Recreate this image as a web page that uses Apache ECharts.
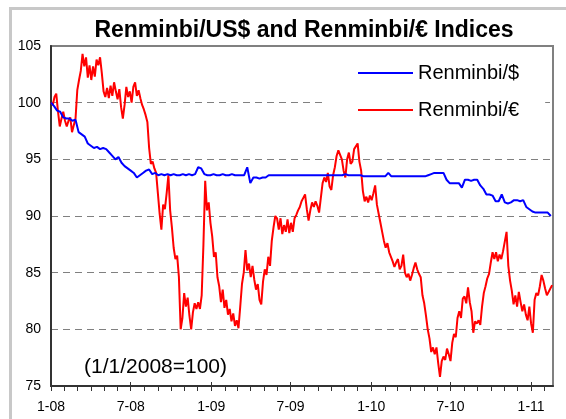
<!DOCTYPE html>
<html>
<head>
<meta charset="utf-8">
<script src="https://cdn.jsdelivr.net/npm/echarts@6/dist/echarts.min.js"></script>
<style>
  html, body { margin: 0; padding: 0; background: #fff; }
  #chart { width: 566px; height: 419px; }
</style>
</head>
<body>
<div id="chart"></div>
<script>
// Daily axis from the start of 2008 to late February 2011
const startDate = '2008-01-01';
const endDate = '2011-02-20';

const seriesNames = ['Renminbi/$', 'Renminbi/€'];

// Renminbi per US dollar index (1/1/2008 = 100), one reading every 7 days
const usdStepDays = 7;
const rmbUsd = [
  100.0, 99.7, 99.3, 99.2, 98.7, 98.6, 98.6, 98.4, 98.5, 97.4,
  97.2, 97.0, 96.4, 96.2, 96.0, 96.1, 95.9, 96.0, 95.9, 95.6,
  95.3, 95.0, 95.2, 94.7, 94.4, 94.2, 94.0, 93.8, 93.4, 93.6,
  93.8, 94.0, 94.1, 93.7, 93.8, 93.6, 93.7, 93.6, 93.7, 93.6,
  93.7, 93.6, 93.6, 93.7, 93.6, 93.7, 93.6, 93.7, 94.3, 94.2,
  93.7, 93.6, 93.6, 93.7, 93.6, 93.6, 93.7, 93.6, 93.6, 93.7,
  93.6, 93.6, 93.6, 93.6, 94.3, 92.9, 93.4, 93.4, 93.3, 93.4,
  93.4, 93.6, 93.6, 93.6, 93.6, 93.6, 93.6, 93.6, 93.6, 93.6,
  93.6, 93.6, 93.6, 93.6, 93.6, 93.6, 93.6, 93.6, 93.6, 93.6,
  93.6, 93.6, 93.6, 93.6, 93.6, 93.6, 93.7, 93.6, 93.6, 93.6,
  93.6, 93.6, 93.5, 93.5, 93.5, 93.5, 93.5, 93.5, 93.5, 93.5,
  93.8, 93.5, 93.5, 93.5, 93.5, 93.5, 93.5, 93.5, 93.5, 93.5,
  93.5, 93.5, 93.5, 93.6, 93.7, 93.8, 93.8, 93.8, 93.8, 93.2,
  92.9, 92.9, 92.9, 92.9, 92.5, 93.2, 93.2, 93.1, 93.2, 93.2,
  92.7, 92.4, 91.9, 91.9, 91.8, 91.3, 91.3, 91.9, 91.2, 91.1,
  91.2, 91.4, 91.4, 91.3, 91.4, 90.8, 90.6, 90.4, 90.3, 90.3,
  90.3, 90.3, 90.3, 90.0
];

// Renminbi per euro index (1/1/2008 = 100), one reading every 4 days
const eurStepDays = 4;
const rmbEur = [
  100.0, 99.8, 100.5, 100.8, 99.2, 97.9, 98.6, 99.2, 98.4, 97.9,
  98.4, 98.7, 97.4, 98.0, 98.6, 101.1, 102.0, 102.8, 104.3, 103.2,
  104.0, 102.2, 103.3, 102.0, 103.2, 102.3, 103.8, 103.3, 104.0, 102.6,
  101.0, 100.5, 101.3, 100.4, 101.5, 100.6, 101.8, 101.0, 100.3, 101.2,
  99.6, 98.6, 99.8, 101.4, 100.5, 101.0, 100.0, 101.4, 101.8, 100.6,
  101.1, 100.4, 99.8, 99.4, 98.9, 98.3, 96.0, 94.6, 94.8, 94.2,
  93.8, 92.0, 90.2, 88.8, 91.0, 90.6, 92.0, 93.6, 90.5, 89.0,
  87.2, 86.2, 86.5, 84.6, 80.0, 81.0, 83.2, 82.0, 82.8, 81.2,
  80.0, 81.5, 82.3, 81.8, 82.4, 81.8, 83.0, 87.5, 93.1, 90.5,
  91.2, 89.4, 88.2, 86.4, 86.8, 84.6, 83.8, 82.4, 83.5, 81.9,
  82.6, 81.3, 81.8, 80.7, 81.4, 80.3, 80.8, 80.1, 82.0, 84.0,
  85.0, 87.0, 85.2, 85.8, 84.6, 85.6, 84.4, 83.5, 84.0, 82.6,
  82.2, 84.2, 85.3, 84.8, 86.4, 85.6, 87.8, 89.0, 90.0, 89.8,
  88.8, 89.8, 88.4, 89.2, 88.6, 89.7, 88.5, 89.4, 88.6, 89.8,
  90.1, 90.5, 90.8, 91.3, 91.6, 91.9, 90.6, 89.6, 90.5, 91.2,
  90.8, 91.3, 90.9, 90.3, 91.6, 92.9, 93.4, 93.0, 93.8, 92.6,
  92.3, 93.6, 94.3, 95.3, 95.8, 95.4, 95.0, 94.0, 93.4, 95.0,
  95.6, 94.6, 94.8, 95.9, 96.0, 96.4, 94.8, 94.0, 92.2, 91.3,
  91.7, 91.2, 91.8, 91.4, 92.0, 92.7, 91.0, 90.2, 89.4, 88.6,
  87.8, 87.2, 87.6, 86.8, 86.4, 86.0, 85.5, 85.9, 86.2, 85.3,
  85.6, 86.6, 85.0, 84.6, 84.9, 84.3, 84.8, 85.4, 85.9, 85.3,
  84.9, 84.6, 83.0, 82.3, 81.2, 80.0, 79.2, 78.0, 78.4, 77.8,
  78.4, 77.0, 75.8, 77.2, 77.6, 77.3, 78.3, 77.8, 77.2, 78.8,
  79.6, 79.3, 81.0, 81.6, 81.0, 82.7, 82.9, 82.3, 83.7, 82.4,
  81.6, 79.7, 80.7, 80.5, 80.8, 80.4, 82.0, 83.2, 83.8, 84.5,
  84.9, 85.9, 86.8, 86.2, 86.8, 86.0, 86.6, 86.2, 86.9, 87.0,
  88.6, 85.6, 84.3, 83.4, 82.2, 83.0, 82.0, 83.3, 82.4, 81.6,
  82.2, 81.3, 80.8, 82.0, 80.5, 79.7, 82.6, 83.2, 83.0, 83.8,
  84.8, 84.3, 83.6, 83.0, 82.9, 83.6, 83.9
];

// Value axis range
const yMin = 75;
const yMax = 105;
const yStep = 5;

const FONT = "Arial, 'Liberation Sans', sans-serif";
const DAY = 86400000;

function isoDay(ms) { return new Date(ms).toISOString().slice(0, 10); }

// Every calendar day on the axis
const t0 = Date.parse(startDate + 'T00:00:00Z');
const t1 = Date.parse(endDate + 'T00:00:00Z');
const days = [];
for (let t = t0; t <= t1; t += DAY) days.push(isoDay(t));

// Pair each reading with its date
function withDates(values, stepDays) {
  return values.map((v, i) => [isoDay(t0 + i * stepDays * DAY), v]);
}

const isMonthStart = (idx, val) => val.slice(8) === '01';
const isHalfYear = (idx, val) => val.slice(8) === '01' && (val.slice(5, 7) === '01' || val.slice(5, 7) === '07');
const shortLabel = (val) => (+val.slice(5, 7)) + '-' + val.slice(2, 4);

const chart = echarts.init(document.getElementById('chart'), null, { renderer: 'canvas' });

chart.setOption({
  animation: false,
  backgroundColor: '#fff',
  textStyle: { fontFamily: FONT },
  grid: {
    left: 51, top: 46, right: 13, bottom: 33,
    show: true, borderColor: '#808080', borderWidth: 2, backgroundColor: 'transparent'
  },
  graphic: [
    {
      type: 'rect', silent: true, z: -1,
      shape: { x: 10.5, y: 8.5, width: 700, height: 600 },
      style: { fill: null, stroke: '#c8c8c8', lineWidth: 3 }
    },
    {
      type: 'text', silent: true,
      x: 304, y: 31,
      style: {
        text: 'Renminbi/US$ and Renminbi/€ Indices',
        font: 'bold 23px ' + FONT, fill: '#000',
        textAlign: 'center', textVerticalAlign: 'middle'
      }
    },
    {
      type: 'text', silent: true,
      x: 84, y: 367,
      style: {
        text: '(1/1/2008=100)',
        font: '21px ' + FONT, fill: '#000',
        textAlign: 'left', textVerticalAlign: 'middle'
      }
    }
  ],
  legend: {
    data: seriesNames,
    orient: 'vertical',
    left: 322, top: 55,
    padding: [8, 26, 8, 36],
    backgroundColor: '#fff',
    icon: 'rect',
    itemWidth: 55, itemHeight: 2, itemGap: 17,
    textStyle: { fontSize: 20, color: '#000', fontFamily: FONT, lineHeight: 20 },
    selectedMode: false
  },
  xAxis: [
    {
      type: 'category',
      data: days,
      boundaryGap: false,
      axisLine: { show: true, lineStyle: { color: '#333', width: 2 } },
      axisTick: { show: true, interval: isMonthStart, length: 5, lineStyle: { color: '#333', width: 1 } },
      axisLabel: {
        show: true, interval: isHalfYear, formatter: shortLabel,
        fontSize: 14, color: '#000', margin: 14, fontFamily: FONT
      },
      splitLine: { show: false }
    },
    {
      type: 'category',
      data: days,
      boundaryGap: false,
      position: 'bottom',
      axisLine: { show: false },
      axisTick: { show: true, inside: true, interval: isHalfYear, length: 4, lineStyle: { color: '#333', width: 1 } },
      axisLabel: { show: false },
      splitLine: { show: false }
    }
  ],
  yAxis: {
    type: 'value',
    min: yMin, max: yMax, interval: yStep,
    axisLine: { show: true, lineStyle: { color: '#333', width: 2 } },
    axisTick: { show: false },
    axisLabel: { fontSize: 14, color: '#000', margin: 10, fontFamily: FONT },
    splitLine: { show: true, lineStyle: { color: '#808080', width: 1, type: [7, 5] } }
  },
  series: [
    {
      name: seriesNames[0], type: 'line', xAxisIndex: 0,
      data: withDates(rmbUsd, usdStepDays),
      symbol: 'none', showSymbol: false, z: 3,
      lineStyle: { color: '#0000ff', width: 2 },
      itemStyle: { color: '#0000ff' }
    },
    {
      name: seriesNames[1], type: 'line', xAxisIndex: 0,
      data: withDates(rmbEur, eurStepDays),
      symbol: 'none', showSymbol: false, z: 2,
      lineStyle: { color: '#ff0000', width: 2 },
      itemStyle: { color: '#ff0000' }
    }
  ]
});
</script>
</body>
</html>
